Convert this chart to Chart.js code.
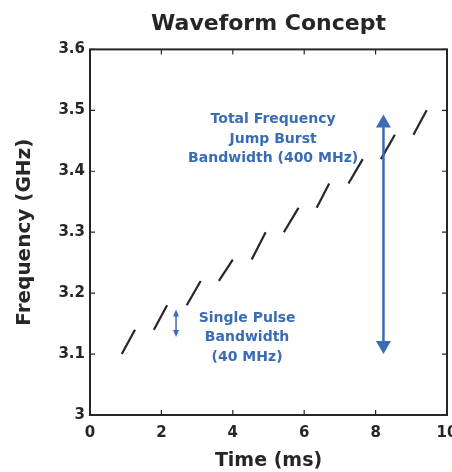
<!DOCTYPE html>
<html>
<head>
  <title>Waveform Concept</title>
  <style>
    body {
      margin: 0;
      padding: 0;
      background-color: #ffffff;
    }
    #box {
      width: 452px;
      height: 472px;
    }
  </style>
  <script src="https://cdn.jsdelivr.net/npm/chart.js"></script>
</head>
<body>
  <div id="box"><canvas id="wave_chart"></canvas></div>

  <script>
    // pulse values (time in ms, frequency in GHz)
    var pulseStart = [0.89, 1.79, 2.71, 3.61, 4.53, 5.43, 6.35, 7.24, 8.15, 9.06];
    var pulseEnd   = [1.26, 2.16, 3.10, 4.00, 4.92, 5.84, 6.70, 7.64, 8.54, 9.43];
    var pulseFreqLow  = [3.10, 3.14, 3.18, 3.22, 3.255, 3.30, 3.34, 3.38, 3.42, 3.46];
    var pulseFreqHigh = [3.14, 3.18, 3.22, 3.255, 3.30, 3.34, 3.38, 3.42, 3.46, 3.50];

    // double arrows: burst bandwidth and single pulse bandwidth
    var arrowTime = [8.22, 2.41];
    var arrowLow  = [3.10, 3.128];
    var arrowHigh = [3.493, 3.173];

    var xTicks = [0, 2, 4, 6, 8, 10];
    var yTicks = [3, 3.1, 3.2, 3.3, 3.4, 3.5, 3.6];

    var labelText = [
      ['Total Frequency', 'Jump Burst', 'Bandwidth (400 MHz)'],
      ['Single Pulse', 'Bandwidth', '(40 MHz)']
    ];

    var ink = '#262626';
    var blue = '#3a6cb4';
    var fontName = '"DejaVu Sans", Arial, sans-serif';

    // one line dataset for every pulse
    var datasets = [];
    for (var i = 0; i < pulseStart.length; i++) {
      datasets.push({
        data: [{x: pulseStart[i], y: pulseFreqLow[i]}, {x: pulseEnd[i], y: pulseFreqHigh[i]}],
        showLine: true,
        borderColor: ink,
        borderWidth: 2.2,
        pointRadius: 0,
        fill: false
      });
    }

    // where the text blocks sit (data units) and how big the arrow heads are
    var textPlace = [
      {x: 5.13, y: 3.485, size: 14},
      {x: 4.40, y: 3.159, size: 14}
    ];
    var headSize = [{w: 15, h: 13, lw: 2.5}, {w: 6, h: 7, lw: 1.5}];

    var boxPlugin = {
      id: 'boxPlugin',
      afterLayout: function(chart) {
        // centre the title over the plot box, not the whole canvas
        if (chart.titleBlock) {
          chart.titleBlock.left = chart.chartArea.left;
          chart.titleBlock.right = chart.chartArea.right;
        }
      },
      afterDatasetsDraw: function(chart) {
        var ctx = chart.ctx;
        var a = chart.chartArea;
        var xs = chart.scales.x;
        var ys = chart.scales.y;
        ctx.save();

        // box with inward ticks
        ctx.strokeStyle = ink;
        ctx.lineWidth = 2;
        ctx.strokeRect(a.left, a.top, a.right - a.left, a.bottom - a.top);
        ctx.lineWidth = 1.2;
        ctx.beginPath();
        xTicks.forEach(function(t) {
          var px = xs.getPixelForValue(t);
          ctx.moveTo(px, a.bottom); ctx.lineTo(px, a.bottom - 5);
          ctx.moveTo(px, a.top); ctx.lineTo(px, a.top + 5);
        });
        yTicks.forEach(function(t) {
          var py = ys.getPixelForValue(t);
          ctx.moveTo(a.left, py); ctx.lineTo(a.left + 5, py);
          ctx.moveTo(a.right, py); ctx.lineTo(a.right - 5, py);
        });
        ctx.stroke();

        // arrows
        ctx.strokeStyle = blue;
        ctx.fillStyle = blue;
        for (var k = 0; k < arrowTime.length; k++) {
          var px = xs.getPixelForValue(arrowTime[k]);
          var top = ys.getPixelForValue(arrowHigh[k]);
          var bot = ys.getPixelForValue(arrowLow[k]);
          var hs = headSize[k];
          ctx.lineWidth = hs.lw;
          ctx.beginPath();
          ctx.moveTo(px, top + hs.h - 1);
          ctx.lineTo(px, bot - hs.h + 1);
          ctx.stroke();
          ctx.beginPath();
          ctx.moveTo(px, top);
          ctx.lineTo(px - hs.w / 2, top + hs.h);
          ctx.lineTo(px + hs.w / 2, top + hs.h);
          ctx.closePath();
          ctx.fill();
          ctx.beginPath();
          ctx.moveTo(px, bot);
          ctx.lineTo(px - hs.w / 2, bot - hs.h);
          ctx.lineTo(px + hs.w / 2, bot - hs.h);
          ctx.closePath();
          ctx.fill();
        }

        // text blocks
        ctx.textAlign = 'center';
        ctx.textBaseline = 'middle';
        for (var j = 0; j < labelText.length; j++) {
          var p = textPlace[j];
          ctx.font = 'bold ' + p.size + 'px ' + fontName;
          var cx = xs.getPixelForValue(p.x);
          var cy = ys.getPixelForValue(p.y);
          labelText[j].forEach(function(line, n) {
            ctx.fillText(line, cx, cy + n * 19.5);
          });
        }
        ctx.restore();
      }
    };

    var waveChart = new Chart(document.getElementById('wave_chart'), {
      type: 'scatter',
      data: { datasets: datasets },
      plugins: [boxPlugin],
      options: {
        responsive: true,
        maintainAspectRatio: false,
        animation: false,
        layout: { padding: { left: 0, right: 5, top: 0, bottom: 0 } },
        plugins: {
          legend: { display: false },
          tooltip: { enabled: false },
          title: {
            display: true,
            text: 'Waveform Concept',
            color: ink,
            font: { family: fontName, size: 22, weight: 'bold' },
            padding: { top: 11, bottom: 12 }
          }
        },
        scales: {
          x: {
            type: 'linear',
            min: 0,
            max: 10,
            afterFit: function(scale) {
              scale.height = 57;
              scale.paddingLeft = 0;
              scale.paddingRight = 0;
            },
            afterBuildTicks: function(scale) {
              scale.ticks = xTicks.map(function(v) { return {value: v}; });
            },
            grid: { display: false, drawTicks: false },
            border: { display: false },
            ticks: {
              color: ink,
              padding: 9,
              maxRotation: 0,
              font: { family: fontName, size: 15, weight: 'bold' }
            },
            title: {
              display: true,
              text: 'Time (ms)',
              color: ink,
              font: { family: fontName, size: 19, weight: 'bold' },
              padding: { top: 0, bottom: 0 }
            }
          },
          y: {
            type: 'linear',
            min: 3,
            max: 3.6,
            afterFit: function(scale) { scale.width = 90; },
            afterBuildTicks: function(scale) {
              scale.ticks = yTicks.map(function(v) { return {value: v}; });
            },
            grid: { display: false, drawTicks: false },
            border: { display: false },
            ticks: {
              color: ink,
              padding: 5,
              font: { family: fontName, size: 15, weight: 'bold' },
              callback: function(v) { return (Math.round(v * 10) / 10).toString(); }
            },
            title: {
              display: true,
              text: 'Frequency (GHz)',
              color: ink,
              font: { family: fontName, size: 20, weight: 'bold' },
              padding: { top: 13, bottom: 0 }
            }
          }
        }
      }
    });
  </script>
</body>
</html>
